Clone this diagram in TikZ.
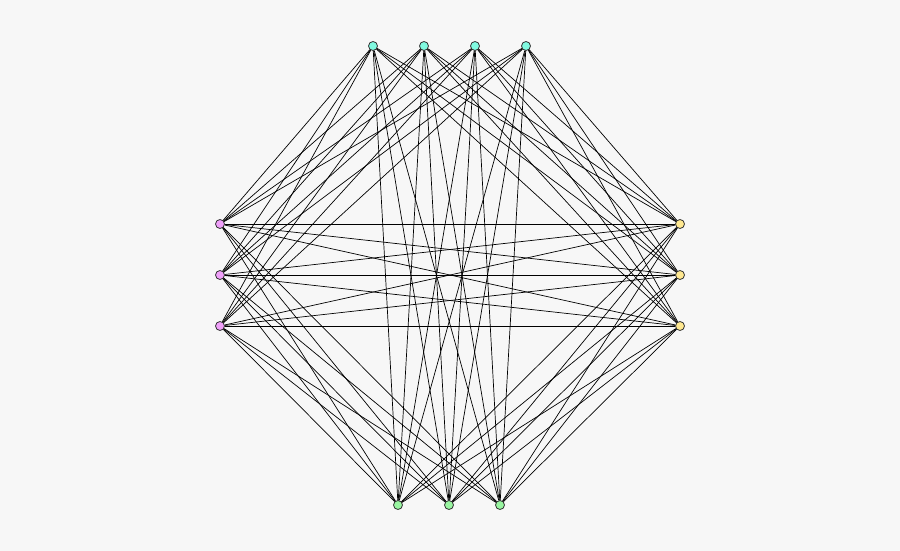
\documentclass[tikz,border=0pt]{standalone}
\usepackage{tikz}
\usetikzlibrary{positioning}
\definecolor{bgc}{HTML}{F7F7F7}
\definecolor{topc}{HTML}{80FAE0}
\definecolor{leftc}{HTML}{F0A0FA}
\definecolor{rightc}{HTML}{FFE890}
\definecolor{botc}{HTML}{98F5A0}
\tikzset{vert/.style={circle,draw=black!80,line width=0.8bp,minimum size=9bp,inner sep=0pt}}
\tikzset{link/.style={line width=0.7bp}}

\begin{document}
\begin{tikzpicture}[x=1bp,y=-1bp,node distance=51bp,on grid]
        \fill[bgc] (0,0) rectangle (900,551);
        % top row
        \node(t1)[vert,fill=topc] at (373,46){};
        \node(t2)[vert,fill=topc,right=of t1]{};
        \node(t3)[vert,fill=topc,right=of t2]{};
        \node(t4)[vert,fill=topc,right=of t3]{};
        % left column
        \node(l1)[vert,fill=leftc] at (220,224){};
        \node(l2)[vert,fill=leftc,below=of l1]{};
        \node(l3)[vert,fill=leftc,below=of l2]{};
        % right column
        \node(r1)[vert,fill=rightc] at (680,224){};
        \node(r2)[vert,fill=rightc,below=of r1]{};
        \node(r3)[vert,fill=rightc,below=of r2]{};
        % bottom row
        \node(b1)[vert,fill=botc] at (398,505){};
        \node(b2)[vert,fill=botc,right=of b1]{};
        \node(b3)[vert,fill=botc,right=of b2]{};
        \foreach \a in {t1,t2,t3,t4}
          \foreach \b in {l1,l2,l3,r1,r2,r3,b1,b2,b3}
            \draw[link] (\a) -- (\b);
        \foreach \a in {l1,l2,l3}
          \foreach \b in {r1,r2,r3,b1,b2,b3}
            \draw[link] (\a) -- (\b);
        \foreach \a in {r1,r2,r3}
          \foreach \b in {b1,b2,b3}
            \draw[link] (\a) -- (\b);
      \end{tikzpicture}
\end{document}
